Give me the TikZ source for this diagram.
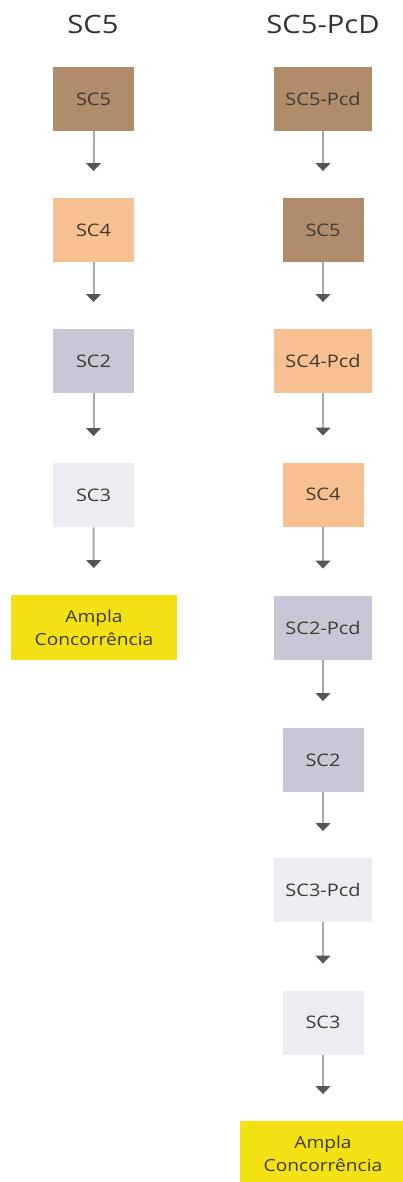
\documentclass[tikz,border=0pt]{standalone}
\usepackage{fontspec}
\setmainfont[FakeStretch=1.15]{Open Sans}
\usetikzlibrary{arrows.meta}

\definecolor{scbrown}{RGB}{177,140,106}
\definecolor{scpeach}{RGB}{247,192,144}
\definecolor{sclilac}{RGB}{201,198,214}
\definecolor{sclight}{RGB}{236,236,242}
\definecolor{scyellow}{RGB}{243,225,20}
\definecolor{txtgray}{RGB}{64,58,52}
\definecolor{titlegray}{RGB}{50,50,50}
\definecolor{arrowline}{RGB}{170,170,170}
\definecolor{arrowhead}{RGB}{85,85,85}

\begin{document}
\begin{tikzpicture}[x=0.75pt,y=0.75pt,yscale=-1,xscale=1,
  scbox/.style={fill=#1, inner sep=0pt, minimum width=60.75pt, minimum height=48pt, text=txtgray, font=\fontsize{13}{15}\selectfont},
  pcdbox/.style={scbox=#1, minimum width=73.5pt},
  amplabox/.style={scbox=scyellow, minimum width=124.5pt, minimum height=48.75pt, align=center, font=\fontsize{12.5}{17}\selectfont},
  title/.style={text=titlegray, font=\fontsize{19}{22}\selectfont},
  flow/.style={draw=arrowline, line width=1.5pt, shorten >=20pt, -{Triangle[width=11pt,length=6pt,color=arrowhead]}}]
%set diagram from (0,0) to (403,1182)
\useasboundingbox (0,0) rectangle (403,1182);

% Text Node
\node [title] (tsc) at (93,24) {SC5};
% Text Node
\node [title] (tpcd) at (323,24) {SC5-PcD};

%Left column
\node [scbox=scbrown] (l5) at (93.5,99) {SC5};
\node [scbox=scpeach] (l4) at (93.5,230) {SC4};
\node [scbox=sclilac] (l2) at (93.5,361) {SC2};
\node [scbox=sclight] (l3) at (93.5,495) {SC3};
\node [amplabox] (la) at (94,627.5) {Ampla\\Concorrência};

%Right column
\node [pcdbox=scbrown] (r5p) at (323,99) {SC5-Pcd};
\node [scbox=scbrown] (r5) at (323,230) {SC5};
\node [pcdbox=scpeach] (r4p) at (323,361) {SC4-Pcd};
\node [scbox=scpeach] (r4) at (323,494.5) {SC4};
\node [pcdbox=sclilac] (r2p) at (323,627.5) {SC2-Pcd};
\node [scbox=sclilac] (r2) at (323,760) {SC2};
\node [pcdbox=sclight] (r3p) at (323,890) {SC3-Pcd};
\node [scbox=sclight] (r3) at (323,1022.5) {SC3};
\node [amplabox] (ra) at (323,1153.5) {Ampla\\Concorrência};

%Straight Lines
\draw [flow] (l5) -- (l4);
\draw [flow] (l4) -- (l2);
\draw [flow] (l2) -- (l3);
\draw [flow] (l3) -- (la);
%Straight Lines
\draw [flow] (r5p) -- (r5);
\draw [flow] (r5) -- (r4p);
\draw [flow] (r4p) -- (r4);
\draw [flow] (r4) -- (r2p);
\draw [flow] (r2p) -- (r2);
\draw [flow] (r2) -- (r3p);
\draw [flow] (r3p) -- (r3);
\draw [flow] (r3) -- (ra);

\end{tikzpicture}
\end{document}
